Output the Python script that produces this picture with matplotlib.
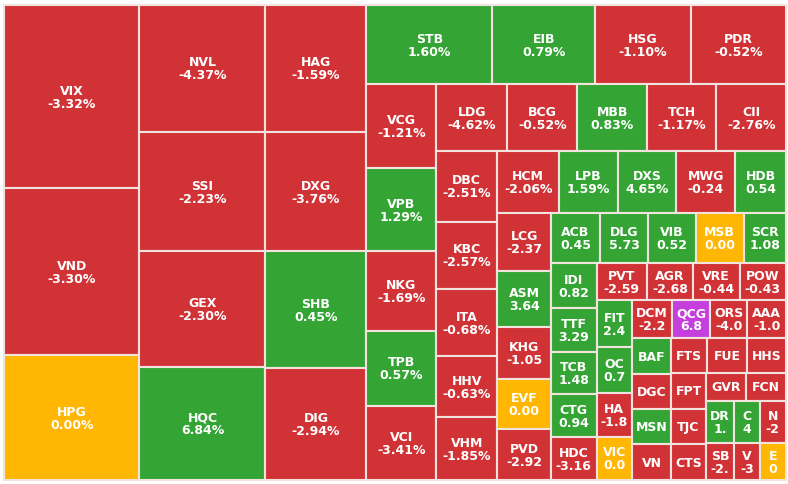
import matplotlib
matplotlib.use( 'Agg' )
from matplotlib import pyplot
from matplotlib.patches import Rectangle

# tickers in layout order, tile sizes (relative areas)
names = [ 'VIX', 'VND', 'HPG', 'NVL', 'SSI', 'GEX', 'HQC', 'HAG', 'DXG', 'SHB', 'DIG',
          'STB', 'EIB', 'HSG', 'PDR', 'VCG', 'VPB', 'NKG', 'TPB', 'VCI',
          'LDG', 'BCG', 'MBB', 'TCH', 'CII', 'DBC', 'KBC', 'ITA', 'HHV', 'VHM',
          'HCM', 'LPB', 'DXS', 'MWG', 'HDB', 'LCG', 'ASM', 'KHG', 'EVF', 'PVD',
          'ACB', 'DLG', 'VIB', 'MSB', 'SCR', 'IDI', 'TTF', 'TCB', 'CTG', 'HDC',
          'PVT', 'AGR', 'VRE', 'POW', 'FIT', 'OC', 'HA', 'VIC', 'DCM', 'QCG', 'ORS', 'AAA',
          'BAF', 'DGC', 'MSN', 'VN', 'FTS', 'FUE', 'HHS', 'FPT', 'TJC', 'CTS',
          'GVR', 'FCN', 'DR', 'SB', 'C', 'N', 'V', 'E' ]

sizes = [ 24864, 22696, 16938, 16002, 15120, 14553, 14301, 12827, 12120, 11767, 11363,
          10017, 8149, 7592, 7592, 5838, 5803, 5525, 5212, 5178,
          4755, 4655, 4622, 4622, 4622, 4367, 4182, 4121, 3752, 3875,
          3844, 3688, 3656, 3656, 3188, 3103, 3023, 2782, 2675, 2729,
          2475, 2424, 2424, 2399, 2146, 2048, 2002, 1911, 1957, 1957,
          1857, 1713, 1720, 1720, 1678, 1624, 1571, 1553, 1520, 1436, 1425, 1463,
          1397, 1358, 1358, 1397, 1259, 1363, 1346, 1278, 1225, 1260,
          1120, 1120, 1190, 1036, 1084, 1126, 944, 980 ]

# change text as shown in each tile (already cut down where the tile is small)
changes = [ '-3.32%', '-3.30%', '0.00%', '-4.37%', '-2.23%', '-2.30%', '6.84%', '-1.59%', '-3.76%', '0.45%', '-2.94%',
            '1.60%', '0.79%', '-1.10%', '-0.52%', '-1.21%', '1.29%', '-1.69%', '0.57%', '-3.41%',
            '-4.62%', '-0.52%', '0.83%', '-1.17%', '-2.76%', '-2.51%', '-2.57%', '-0.68%', '-0.63%', '-1.85%',
            '-2.06%', '1.59%', '4.65%', '-0.24', '0.54', '-2.37', '3.64', '-1.05', '0.00', '-2.92',
            '0.45', '5.73', '0.52', '0.00', '1.08', '0.82', '3.29', '1.48', '0.94', '-3.16',
            '-2.59', '-2.68', '-0.44', '-0.43', '2.4', '0.7', '-1.8', '0.0', '-2.2', '6.8', '-4.0', '-1.0',
            '', '', '', '', '', '', '', '', '', '',
            '', '', '1.', '-2.', '4', '-2', '-3', '0' ]

# r = down, g = up, y = unchanged, p = ceiling
moves = [ 'r', 'r', 'y', 'r', 'r', 'r', 'g', 'r', 'r', 'g', 'r',
          'g', 'g', 'r', 'r', 'r', 'g', 'r', 'g', 'r',
          'r', 'r', 'g', 'r', 'r', 'r', 'r', 'r', 'r', 'r',
          'r', 'g', 'g', 'r', 'g', 'r', 'g', 'r', 'y', 'r',
          'g', 'g', 'g', 'y', 'g', 'g', 'g', 'g', 'g', 'r',
          'r', 'r', 'r', 'r', 'g', 'g', 'r', 'y', 'r', 'p', 'r', 'r',
          'g', 'r', 'g', 'r', 'r', 'r', 'r', 'r', 'r', 'r',
          'r', 'r', 'g', 'r', 'g', 'r', 'r', 'y' ]

palette = { 'r': '#d03236', 'g': '#34a534', 'y': '#ffb703', 'p': '#c43fdb' }


def worst( row, side, ratio ):
    s = sum( row )
    f = side * side * ratio
    return max( f * max( row ) / ( s * s ), s * s / ( f * min( row ) ) )


def squarify( values, w, h, ratio=0.94 ):
    total = sum( values )
    areas = [ v * w * h / total for v in values ]
    x, y = 0.0, 0.0
    rects = []
    i = 0
    while i < len( areas ):
        dx, dy = w - x, h - y
        side = min( dx, dy )
        j = i + 1
        best = worst( areas[i:j], side, ratio )
        while j < len( areas ):
            score = worst( areas[i:j + 1], side, ratio )
            if score > best:
                break
            best = score
            j += 1
        row = areas[i:j]
        s = sum( row )
        if dx >= dy:
            # column on the left
            t = s / dy
            yy = y
            for a in row:
                rects.append( ( x, yy, t, a / t ) )
                yy += a / t
            x += t
        else:
            # row along the top
            t = s / dx
            xx = x
            for a in row:
                rects.append( ( xx, y, a / t, t ) )
                xx += a / t
            y += t
        i = j
    return rects


fig_w, fig_h = 788, 485
left, top, W, H = 4, 6, 782, 475

fig = pyplot.figure( figsize=( fig_w / 100, fig_h / 100 ), dpi=100 )
ax = fig.add_axes( [ left / fig_w, ( fig_h - top - H ) / fig_h, W / fig_w, H / fig_h ] )
ax.set_xlim( 0, W )
ax.set_ylim( H, 0 )
ax.axis( 'off' )

for ( x, y, w, h ), name, chg, mv in zip( squarify( sizes, W, H ), names, changes, moves ):
    ax.add_patch( Rectangle( ( x, y ), w, h, facecolor=palette[mv],
                             edgecolor='#f3e3df', linewidth=1.5, clip_on=False ) )
    label = name + '\n' + chg if chg else name
    ax.text( x + w / 2, y + h / 2, label, ha='center', va='center', color='white',
             fontsize=9, fontweight='bold', linespacing=1.0, family='DejaVu Sans' )

pyplot.savefig( 'out.png', dpi=100 )
